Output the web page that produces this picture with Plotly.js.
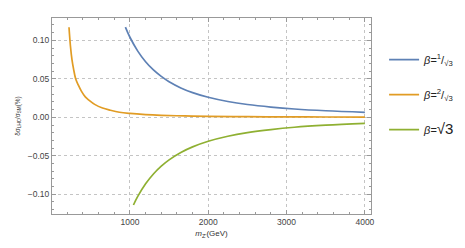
<!DOCTYPE html>
<html>
<head>
<meta charset="utf-8">
<script src="https://cdn.plot.ly/plotly-3.0.1.min.js"></script>
<style>html,body{margin:0;padding:0;background:#fff;}#chart{width:465px;height:248px;}</style>
</head>
<body>
<div id="chart"></div>
<script>
// m_Z' (GeV) and delta sigma_LHC / sigma_SM (%) for each beta
const mBlue = [942, 1000, 1100, 1200, 1300, 1400, 1500, 1650, 1800, 2000, 2250, 2500, 2800, 3100, 3500, 4000];
const yBlue = [0.1172, 0.104, 0.086, 0.0722, 0.0615, 0.0531, 0.0462, 0.0382, 0.0321, 0.026, 0.0205, 0.0166, 0.0133, 0.0108, 0.0085, 0.0065];

const mOrange = [222, 240, 260, 280, 307, 340, 380, 430, 480, 550, 650, 750, 866, 1000, 1200, 1400, 1700, 2000, 2500, 3000, 3500, 4000];
const yOrange = [0.117, 0.093, 0.075, 0.063, 0.05, 0.042, 0.034, 0.0265, 0.022, 0.0168, 0.012, 0.0092, 0.0066, 0.005, 0.0035, 0.0026, 0.0018, 0.0013, 0.0008, 0.0006, 0.0004, 0.0003];

const mGreen = [1045, 1100, 1200, 1300, 1400, 1500, 1650, 1800, 2000, 2250, 2500, 2800, 3100, 3500, 4000];
const yGreen = [-0.1139, -0.1028, -0.0864, -0.0736, -0.0635, -0.0553, -0.0457, -0.0384, -0.0311, -0.0246, -0.0199, -0.0159, -0.0129, -0.0102, -0.0078];

const names = ["<i>β</i>=<sup>1</sup>/<sub>√3</sub>", "<i>β</i>=<sup>2</sup>/<sub>√3</sub>", "<i>β</i>=<span style=\"font-size:15px\">√3</span>"];
const colors = ["#5E81B5", "#E19C24", "#8FB032"];

const traces = [
  {x: mBlue, y: yBlue, name: names[0], legendgroup: "a", line: {color: colors[0], width: 1.7, shape: "spline"}},
  {x: mOrange, y: yOrange, name: names[1], legendgroup: "b", line: {color: colors[1], width: 1.7, shape: "spline"}},
  {x: mGreen, y: yGreen, name: names[2], legendgroup: "c", line: {color: colors[2], width: 1.7, shape: "spline"}}
].map(t => Object.assign({type: "scatter", mode: "lines", hoverinfo: "skip"}, t));

const axisCommon = {
  showline: true, linecolor: "#999", linewidth: 1, mirror: "allticks",
  ticks: "inside", ticklen: 4, tickcolor: "#999", tickwidth: 1,
  showgrid: true, gridcolor: "#c4c4c4", griddash: "dot", gridwidth: 1,
  zeroline: false, automargin: false,
  tickfont: {family: "Liberation Sans, Arial, sans-serif", size: 8.5, color: "#444"}
};

const layout = {
  width: 465, height: 248,
  margin: {l: 52, r: 94, t: 18, b: 34, autoexpand: false},
  paper_bgcolor: "#fff", plot_bgcolor: "#fff",
  showlegend: true,
  legend: {xref: "container", yref: "container", x: 0.826, y: 0.818, xanchor: "left", yanchor: "top", tracegroupgap: 16,
           font: {family: "Liberation Sans, Arial, sans-serif", size: 11, color: "#222"},
           bgcolor: "rgba(0,0,0,0)"},
  xaxis: Object.assign({}, axisCommon, {
    range: [5, 4078], tick0: 0, dtick: 1000,
    minor: {tick0: 0, dtick: 200, ticks: "inside", ticklen: 2, tickcolor: "#999", showgrid: false},
    title: {text: "<i>m</i><sub>Z'</sub>(GeV)", standoff: 4,
            font: {family: "Liberation Sans, Arial, sans-serif", size: 8, color: "#333"}}
  }),
  yaxis: Object.assign({}, axisCommon, {
    range: [-0.1256, 0.129], tick0: 0, dtick: 0.05, tickformat: ".2f",
    minor: {tick0: 0, dtick: 0.01, ticks: "inside", ticklen: 2, tickcolor: "#999", showgrid: false},
    title: {text: "δσ<sub>LHC</sub>/σ<sub>SM</sub>(%)", standoff: 6,
            font: {family: "Liberation Sans, Arial, sans-serif", size: 6.5, color: "#333"}}
  })
};

Plotly.newPlot("chart", traces, layout, {staticPlot: true, displayModeBar: false});
</script>
</body>
</html>
